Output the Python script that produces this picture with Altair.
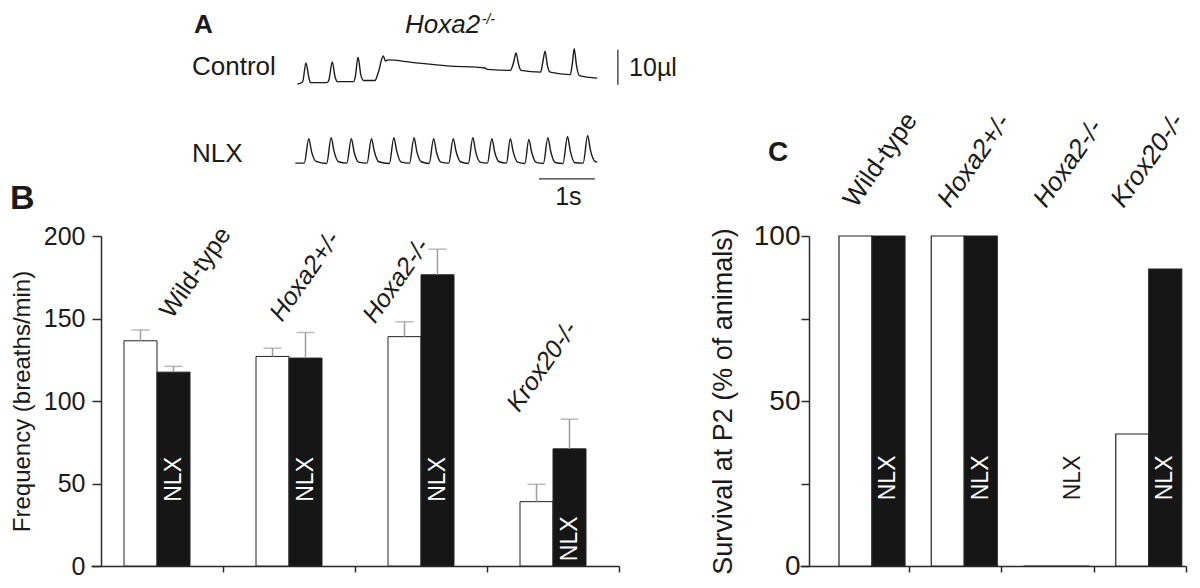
import altair as alt
import pandas as pd

FONT = "Liberation Sans"
INK = "#1a1a1a"
AXIS = "#2a2a2a"
BAR_BLACK = "#161616"
ERR_GREY = "#9c9c9c"

# ---------------- data ----------------
groups = ["Wild-type", "Hoxa2+/-", "Hoxa2-/-", "Krox20-/-"]
conditions = ["Control", "NLX"]

# Panel B: breathing frequency (breaths/min), mean and top of SEM whisker
freq_control = [136.5, 127.0, 139.0, 39.0]
freq_control_err = [143.0, 132.0, 148.0, 49.5]
freq_nlx = [117.5, 126.0, 176.5, 71.0]
freq_nlx_err = [121.0, 141.5, 192.0, 89.0]

# Panel C: survival at P2 (% of animals)
surv_control = [100, 100, 0, 40]
surv_nlx = [100, 100, 0, 90]

# Panel A: plethysmographic traces, time (s) and volume (µl)
ctrl_t = [0.01, 0.10, 0.16, 0.21, 0.24, 0.54, 0.57, 0.63, 0.68, 0.72,
          1.01, 1.04, 1.09, 1.14, 1.19, 1.39, 1.45, 1.54, 1.58, 1.63,
          2.05, 2.68, 3.36, 3.40, 3.81, 3.87, 3.91, 3.96, 4.00, 4.35,
          4.39, 4.43, 4.47, 4.52, 4.88, 4.92, 4.95, 4.99, 5.04, 5.36]
ctrl_v = [-0.3, 0.3, 5.7, 1.7, 0.1, 0.1, 0.9, 6.0, 1.7, 0.4,
          0.4, 1.7, 7.4, 2.3, 0.7, 0.7, 2.9, 7.7, 6.3, 6.6,
          5.9, 4.9, 4.3, 3.9, 3.6, 6.0, 8.6, 5.1, 3.6, 3.1,
          6.0, 9.1, 5.1, 3.1, 2.4, 6.0, 9.8, 5.1, 2.1, 1.4]
nlx_t = [-0.03, 0.13, 0.21, 0.26, 0.34, 0.53, 0.61, 0.66, 0.74, 0.89, 0.97, 1.02, 1.10,
         1.25, 1.33, 1.38, 1.46, 1.65, 1.73, 1.78, 1.86, 2.01, 2.09, 2.14, 2.22,
         2.36, 2.44, 2.49, 2.57, 2.71, 2.79, 2.84, 2.92, 3.06, 3.14, 3.19, 3.27,
         3.40, 3.48, 3.53, 3.61, 3.74, 3.81, 3.86, 3.94, 4.07, 4.14, 4.19, 4.27,
         4.40, 4.48, 4.53, 4.61, 4.75, 4.83, 4.88, 4.96, 5.11, 5.19, 5.24, 5.32, 5.36]
nlx_v = [0.1, 0.1, 7.1, 3.4, 0.6, 0.0, 7.4, 3.6, 0.5, 0.1, 7.1, 3.3, 0.4,
         0.1, 7.1, 3.5, 0.5, 0.0, 7.4, 3.6, 0.4, 0.1, 7.4, 3.4, 0.5,
         0.0, 7.1, 3.3, 0.4, 0.1, 7.1, 3.5, 0.5, 0.0, 7.4, 3.4, 0.4,
         0.1, 7.1, 3.3, 0.5, 0.1, 7.1, 3.4, 0.4, 0.0, 6.9, 3.3, 0.3,
         0.0, 7.4, 3.5, 0.3, 0.0, 7.7, 3.6, 0.2, 0.1, 8.0, 3.8, 0.6, 0.4]
TRACE_GAP = 23.0  # µl between the two traces on the page

# ---------------- annotation layout ----------------
b_label_x = [0.614, 1.447, 2.151, 3.242]   # in group-band units
b_label_y = [149.2, 147.5, 146.3, 92.6]    # in breaths/min
b_nlx_text_y = [52.5, 52.5, 52.5, 16.5]
c_label_x = [0.580, 1.554, 2.550, 3.352]
c_label_y = [108.2, 108.2, 108.2, 108.2]
c_nlx_text_y = [26.7, 26.7, 26.7, 26.7]

# panel A annotations (time s, volume µl)
a_plain = pd.DataFrame({"txt": ["Control", "NLX", "10µl", "1s"],
                        "t": [-1.875, -1.875, 5.93, 4.61],
                        "vy": [2.3, -22.6, 2.0, -34.9],
                        "fs": [26, 26, 25, 25]})
a_bold = pd.DataFrame({"txt": ["A", "B"], "t": [-1.84, -5.125], "vy": [14.3, -36.0], "fs": [26, 34]})
a_ital = pd.DataFrame({"txt": ["Hoxa2", "-/-"], "t": [1.93, 3.30], "vy": [14.3, 17.0], "fs": [26, 14]})
a_bars = pd.DataFrame({"t": [5.73, 4.32], "t2": [5.73, 5.32], "vy": [-0.5, -27.4], "vy2": [9.5, -27.4]})

# ---------------- tables ----------------
def paired(ctrl, nlx):
    return pd.DataFrame({
        "group": [g for g in groups for _ in conditions],
        "cond": conditions * len(groups),
        "value": [v for pair in zip(ctrl, nlx) for v in pair],
    })

b_df = paired(freq_control, freq_nlx)
b_df["err"] = [v for pair in zip(freq_control_err, freq_nlx_err) for v in pair]
c_df = paired(surv_control, surv_nlx)

b_nlx_df = pd.DataFrame({"group": groups, "cond": "NLX", "ty": b_nlx_text_y})
c_nlx_df = pd.DataFrame({"group": groups, "cond": "NLX", "ty": c_nlx_text_y, "bar": surv_nlx})
b_lab_df = pd.DataFrame({"label": groups, "lx": b_label_x, "ly": b_label_y})
c_lab_df = pd.DataFrame({"label": groups + ["C"], "lx": c_label_x + [-0.331], "ly": c_label_y + [122.7]})

trace_df = pd.DataFrame({
    "t": ctrl_t + nlx_t,
    "v": ctrl_v + nlx_v,
    "trace": ["Control"] * len(ctrl_t) + ["NLX"] * len(nlx_t),
    "idx": list(range(len(ctrl_t))) + list(range(len(nlx_t))),
})

W_B, W_C, H = 528, 386, 330

hide_first = {"condition": {"test": "datum.index < 0", "value": 0}, "value": 1}


def x_axis():
    return alt.Axis(title=None, labels=False, tickBand="extent", tickSize=6, tickWidth=1.5,
                    tickColor=AXIS, domainColor=AXIS, domainWidth=1.5, grid=False,
                    tickOpacity=hide_first)


# ---------------- panel B ----------------
xb = alt.X("group:N", scale=alt.Scale(domain=groups, paddingInner=0, paddingOuter=0), axis=x_axis())
xob = alt.XOffset("cond:N", scale=alt.Scale(domain=conditions, paddingInner=0, paddingOuter=1))
yb_axis = alt.Axis(values=[0, 50, 100, 150, 200], title="Frequency (breaths/min)", titleFontSize=24,
                   titlePadding=9, labelFontSize=25, labelPadding=7, tickSize=9, tickWidth=1.5,
                   tickColor=AXIS, domainColor=AXIS, domainWidth=1.5, offset=-10, grid=False)
yb_scale = alt.Scale(domain=[0, 200], nice=False)
fill = alt.Fill("cond:N", scale=alt.Scale(domain=conditions, range=["#ffffff", BAR_BLACK]), legend=None)

bars_b = alt.Chart(b_df).mark_bar(stroke="#222222", strokeWidth=1).encode(
    x=xb, xOffset=xob, y=alt.Y("value:Q", scale=yb_scale, axis=yb_axis), fill=fill)
err_b = alt.Chart(b_df).mark_rule(color=ERR_GREY, strokeWidth=1.5).encode(
    x=xb, xOffset=xob, y=alt.Y("value:Q", scale=yb_scale, axis=yb_axis), y2="err:Q")
cap_b = alt.Chart(b_df).mark_tick(color=ERR_GREY, thickness=1.5, size=18, orient="horizontal").encode(
    x=xb, xOffset=xob, y=alt.Y("err:Q", scale=yb_scale, axis=yb_axis))
nlx_b = alt.Chart(b_nlx_df).mark_text(angle=270, fontSize=23, color="white", align="center",
                                      baseline="middle").encode(
    x=xb, xOffset=xob, y=alt.Y("ty:Q", scale=yb_scale, axis=yb_axis), text="cond:N")
bars_group_b = alt.layer(bars_b, err_b, cap_b, nlx_b)

xl_b = alt.X("lx:Q", scale=alt.Scale(domain=[0, 4], nice=False, zero=False), axis=None)
yl_b = alt.Y("ly:Q", scale=alt.Scale(domain=[0, 200], nice=False), axis=None)
lab_b_plain = alt.Chart(b_lab_df).transform_filter("datum.label === 'Wild-type'").mark_text(
    angle=305, align="left", baseline="alphabetic", fontSize=25, color=INK).encode(
    x=xl_b, y=yl_b, text="label:N")
lab_b_ital = alt.Chart(b_lab_df).transform_filter("datum.label !== 'Wild-type'").mark_text(
    angle=305, align="left", baseline="alphabetic", fontSize=25, fontStyle="italic", color=INK).encode(
    x=xl_b, y=yl_b, text="label:N")
labels_group_b = alt.layer(lab_b_plain, lab_b_ital)

xt = alt.X("t:Q", scale=alt.Scale(domain=[0, 5], range=[206, 486], nice=False, zero=False), axis=None)
yt = alt.Y("vy:Q", scale=alt.Scale(domain=[-30, 12], range=[-48, -195], nice=False, zero=False), axis=None)
traces = alt.Chart(trace_df).transform_calculate(
    vy=f"datum.trace === 'NLX' ? datum.v - {TRACE_GAP} : datum.v"
).mark_line(color=INK, strokeWidth=1.4, interpolate="monotone").encode(
    x=xt, y=yt, detail="trace:N", order="idx:Q")
scale_bars = alt.Chart(a_bars).mark_rule(color="#333333", strokeWidth=1.3).encode(
    x=xt, x2="t2:Q", y=yt, y2="vy2:Q")
a_txt_plain = alt.Chart(a_plain).mark_text(align="left", baseline="alphabetic", color=INK).encode(
    x=xt, y=yt, text="txt:N", size=alt.Size("fs:Q", scale=None))
a_txt_bold = alt.Chart(a_bold).mark_text(align="left", baseline="alphabetic", fontWeight="bold",
                                         color=INK).encode(
    x=xt, y=yt, text="txt:N", size=alt.Size("fs:Q", scale=None))
a_txt_ital = alt.Chart(a_ital).mark_text(align="left", baseline="alphabetic", fontStyle="italic",
                                         color=INK).encode(
    x=xt, y=yt, text="txt:N", size=alt.Size("fs:Q", scale=None))
trace_group = alt.layer(traces, scale_bars, a_txt_plain, a_txt_bold, a_txt_ital)

panel_b = alt.layer(bars_group_b, labels_group_b, trace_group).resolve_scale(
    x="independent", y="independent").properties(width=W_B, height=H)

# ---------------- panel C ----------------
xc = alt.X("group:N", scale=alt.Scale(domain=groups, paddingInner=0, paddingOuter=0.0921, align=1),
           axis=x_axis())
xoc = alt.XOffset("cond:N", scale=alt.Scale(domain=conditions, paddingInner=0, paddingOuter=0.398,
                                            align=0.838))
yc_axis = alt.Axis(values=[0, 25, 50, 75, 100], labelExpr="datum.value % 50 === 0 ? datum.label : ''",
                   title="Survival at P2 (% of animals)", titleFontSize=27, titlePadding=16,
                   labelFontSize=28, labelPadding=1, tickSize=8, tickWidth=1.5, tickColor=AXIS,
                   domainColor=AXIS, domainWidth=1.5, offset=-9, grid=False)
yc_scale = alt.Scale(domain=[0, 100], nice=False)

bars_c = alt.Chart(c_df).mark_bar(stroke="#222222", strokeWidth=1.2).encode(
    x=xc, xOffset=xoc, y=alt.Y("value:Q", scale=yc_scale, axis=yc_axis), fill=fill)
nlx_c = alt.Chart(c_nlx_df).mark_text(angle=270, fontSize=23, align="center", baseline="middle").encode(
    x=xc, xOffset=xoc, y=alt.Y("ty:Q", scale=yc_scale, axis=yc_axis), text="cond:N",
    color=alt.condition(alt.datum.bar > 0, alt.value("white"), alt.value(INK)))
bars_group_c = alt.layer(bars_c, nlx_c)

xl_c = alt.X("lx:Q", scale=alt.Scale(domain=[0, 4], nice=False, zero=False), axis=None)
yl_c = alt.Y("ly:Q", scale=alt.Scale(domain=[0, 100], nice=False), axis=None)
lab_c_plain = alt.Chart(c_lab_df).transform_filter("datum.label === 'Wild-type'").mark_text(
    angle=305, align="left", baseline="alphabetic", fontSize=26, color=INK).encode(
    x=xl_c, y=yl_c, text="label:N")
lab_c_ital = alt.Chart(c_lab_df).transform_filter(
    "datum.label !== 'Wild-type' && datum.label !== 'C'").mark_text(
    angle=305, align="left", baseline="alphabetic", fontSize=26, fontStyle="italic", color=INK).encode(
    x=xl_c, y=yl_c, text="label:N")
lab_c_letter = alt.Chart(c_lab_df).transform_filter("datum.label === 'C'").mark_text(
    align="left", baseline="alphabetic", fontSize=28, fontWeight="bold", color=INK).encode(
    x=xl_c, y=yl_c, text="label:N")
labels_group_c = alt.layer(lab_c_plain, lab_c_ital, lab_c_letter)

panel_c = alt.layer(bars_group_c, labels_group_c).resolve_scale(
    x="independent", y="independent").properties(width=W_C, height=H)

chart = alt.hconcat(panel_b, panel_c, spacing=32).resolve_scale(
    x="independent", y="independent", xOffset="independent"
).properties(
    padding={"left": 2, "top": 3, "right": 0, "bottom": 0}, background="white"
).configure_view(stroke=None).configure_axis(
    labelFont=FONT, titleFont=FONT, labelColor=INK, titleColor=INK, titleFontWeight="normal"
).configure_text(font=FONT)

chart.save("out.html", embed_options={"renderer": "svg", "actions": False})
